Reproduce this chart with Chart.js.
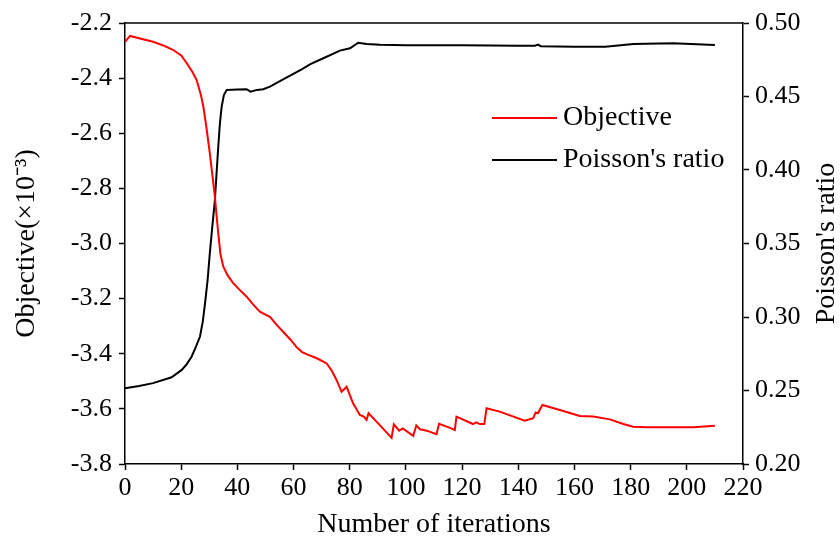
<!DOCTYPE html>
<html>
<head>
<meta charset="utf-8">
<script src="https://cdn.jsdelivr.net/npm/chart.js@4/dist/chart.umd.min.js"></script>
<style>
    html, body { margin: 0; padding: 0; background: #fff; }
    #wrap { width: 840px; height: 547px; }
</style>
</head>
<body>
<div id="wrap"><canvas id="chart" width="840" height="547"></canvas></div>
<script>
// Data
const objIterations = [0, 1.8, 5, 10, 14, 17.2, 20, 22, 24, 25.5, 27, 27.9, 29, 30.2, 31.2, 32, 32.6, 33.2, 34, 35,
    36.5, 38.5, 41, 43.3, 45.5, 48, 50, 51.6, 54, 56.3, 59, 61, 62.9, 65, 67, 69, 71.8, 73.5, 75.3, 77.1,
    78.9, 81.2, 83.6, 85, 86, 86.7, 90.7, 94.9, 95.7, 97.6, 98.9, 102.6, 103.7, 105, 107.4, 110.9, 111.8, 115.7, 117.4, 118,
    123.9, 125.1, 126.3, 127.9, 128.7, 133.4, 142.3, 145.3, 146.2, 147, 148.6, 154.8, 161.9, 166.7, 172.6, 177.4, 180.9, 185.7, 202.3, 210];
const objective = [-2.268, -2.247, -2.255, -2.268, -2.283, -2.298, -2.318, -2.346, -2.378, -2.407, -2.46, -2.504, -2.58, -2.673, -2.76, -2.83, -2.9, -2.963, -3.04, -3.084,
    -3.115, -3.144, -3.17, -3.193, -3.22, -3.247, -3.258, -3.266, -3.295, -3.32, -3.35, -3.375, -3.393, -3.403, -3.411, -3.42, -3.435, -3.46, -3.495, -3.538,
    -3.52, -3.58, -3.622, -3.628, -3.64, -3.616, -3.659, -3.705, -3.656, -3.679, -3.671, -3.698, -3.66, -3.674, -3.679, -3.692, -3.654, -3.669, -3.677, -3.628,
    -3.655, -3.649, -3.655, -3.655, -3.598, -3.61, -3.643, -3.634, -3.613, -3.616, -3.586, -3.604, -3.626, -3.628, -3.638, -3.655, -3.665, -3.667, -3.667, -3.661];

const poisIterations = [0, 5, 10, 16.6, 20.2, 22, 23.7, 25.3, 26.7, 27.7, 28.5, 29.4, 30.2, 31.1, 32, 32.6, 33.2, 33.8, 34.4, 35.2,
    36.2, 40, 43.3, 44.7, 47, 49.2, 51.6, 56.3, 62.9, 66, 70.6, 76.5, 80.1, 83, 86, 90.7, 100, 120, 140, 146,
    147, 148, 160, 171, 181, 195, 210];
const poissonRatio = [0.2515, 0.253, 0.255, 0.259, 0.264, 0.268, 0.273, 0.28, 0.2867, 0.297, 0.3094, 0.325, 0.3434, 0.362, 0.3796, 0.398, 0.4159, 0.432, 0.443, 0.451,
    0.4544, 0.4548, 0.455, 0.4533, 0.4545, 0.455, 0.4567, 0.4617, 0.4685, 0.472, 0.476, 0.4812, 0.4828, 0.4866, 0.4857, 0.4852, 0.4848, 0.4848, 0.4846, 0.4846,
    0.4853, 0.4842, 0.4839, 0.4839, 0.4857, 0.4862, 0.485];

const seriesLabels = ['Objective', "Poisson's ratio"];
const seriesColors = ['#ff0000', '#000000'];

const xTitle = 'Number of iterations';
const yLeftTitle = 'Objective(×10⁻³)';
const yRightTitle = "Poisson's ratio";

// Styling
const FONT = '"Liberation Serif", "Times New Roman", serif';
const TICK_SIZE = 26;
const TITLE_SIZE = 28;

function toPoints(xs, ys) {
    return xs.map((x, i) => ({x: x, y: ys[i]}));
}

// draws the frame top line, the legend inside the plot and the right title (reads bottom to top)
const decorPlugin = {
    id: 'decor',
    afterDraw(chart) {
        const ctx = chart.ctx;
        const area = chart.chartArea;
        ctx.save();
        ctx.strokeStyle = '#000';
        ctx.lineWidth = 1.5;
        ctx.beginPath();
        ctx.moveTo(area.left, area.top);
        ctx.lineTo(area.right, area.top);
        ctx.stroke();

        // legend
        ctx.font = `${TITLE_SIZE}px ${FONT}`;
        ctx.textBaseline = 'middle';
        ctx.fillStyle = '#000';
        chart.data.datasets.forEach((ds, i) => {
            const y = 118 + i * 42;
            ctx.strokeStyle = ds.borderColor;
            ctx.lineWidth = 2;
            ctx.beginPath();
            ctx.moveTo(492, y);
            ctx.lineTo(557, y);
            ctx.stroke();
            ctx.fillText(ds.label, 563, y);
        });

        // right axis title
        const yr = chart.scales.y2;
        ctx.translate(827, (yr.top + yr.bottom) / 2);
        ctx.rotate(-Math.PI / 2);
        ctx.textAlign = 'center';
        ctx.fillText(yRightTitle, 0, 0);
        ctx.restore();
    }
};

function axisStyle() {
    return {
        border: {display: true, color: '#000', width: 1.5},
        grid: {display: true, drawOnChartArea: false, drawTicks: true, tickLength: 6, tickWidth: 1.5, tickColor: '#000'},
    };
}

new Chart(document.getElementById('chart'), {
    type: 'line',
    data: {
        datasets: [
            {
                label: seriesLabels[0],
                data: toPoints(objIterations, objective),
                borderColor: seriesColors[0],
                borderWidth: 2,
                pointRadius: 0,
                tension: 0,
                yAxisID: 'y',
            },
            {
                label: seriesLabels[1],
                data: toPoints(poisIterations, poissonRatio),
                borderColor: seriesColors[1],
                borderWidth: 2,
                pointRadius: 0,
                tension: 0,
                yAxisID: 'y2',
            },
        ]
    },
    options: {
        responsive: false,
        animation: false,
        layout: {padding: {top: 23, left: 0, right: 0, bottom: 0}},
        plugins: {legend: {display: false}, tooltip: {enabled: false}},
        scales: {
            x: {
                type: 'linear',
                min: 0,
                max: 220,
                ...axisStyle(),
                ticks: {
                    stepSize: 20, autoSkip: false, maxRotation: 0, padding: 3, color: '#000',
                    font: {family: FONT, size: TICK_SIZE, lineHeight: 1.2},
                },
                title: {
                    display: true, text: xTitle, color: '#000',
                    font: {family: FONT, size: TITLE_SIZE, lineHeight: 1},
                    padding: {top: 0, bottom: 8},
                },
                afterFit(scale) { scale.height = 83; },
            },
            y: {
                position: 'left',
                min: -3.8,
                max: -2.2,
                ...axisStyle(),
                ticks: {
                    stepSize: 0.2, padding: 7, color: '#000',
                    font: {family: FONT, size: TICK_SIZE},
                    callback: (v) => v.toFixed(1),
                },
                title: {
                    display: true, text: yLeftTitle, color: '#000',
                    font: {family: FONT, size: TITLE_SIZE, lineHeight: 1},
                    padding: {top: 13, bottom: 0},
                },
                afterFit(scale) { scale.width = 125; },
            },
            y2: {
                position: 'right',
                min: 0.2,
                max: 0.5,
                ...axisStyle(),
                ticks: {
                    stepSize: 0.05, padding: 6, color: '#000',
                    font: {family: FONT, size: TICK_SIZE},
                    callback: (v) => v.toFixed(2),
                },
                afterFit(scale) { scale.width = 97; },
            },
        }
    },
    plugins: [decorPlugin],
});
</script>
</body>
</html>
